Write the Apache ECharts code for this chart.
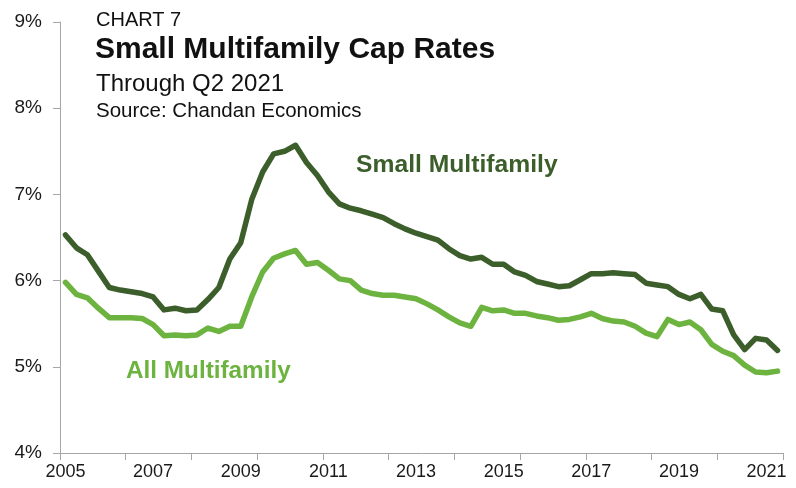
<!DOCTYPE html>
<html>
<head>
<meta charset="utf-8">
<script src="https://cdn.jsdelivr.net/npm/echarts@6/dist/echarts.min.js"></script>
<style>html,body{margin:0;padding:0;background:#fff;}#c{width:796px;height:488px;}</style>
</head>
<body>
<div id="c"></div>
<script>
const quarters = [
'2005Q1','2005Q2','2005Q3','2005Q4','2006Q1','2006Q2','2006Q3','2006Q4',
'2007Q1','2007Q2','2007Q3','2007Q4','2008Q1','2008Q2','2008Q3','2008Q4',
'2009Q1','2009Q2','2009Q3','2009Q4','2010Q1','2010Q2','2010Q3','2010Q4',
'2011Q1','2011Q2','2011Q3','2011Q4','2012Q1','2012Q2','2012Q3','2012Q4',
'2013Q1','2013Q2','2013Q3','2013Q4','2014Q1','2014Q2','2014Q3','2014Q4',
'2015Q1','2015Q2','2015Q3','2015Q4','2016Q1','2016Q2','2016Q3','2016Q4',
'2017Q1','2017Q2','2017Q3','2017Q4','2018Q1','2018Q2','2018Q3','2018Q4',
'2019Q1','2019Q2','2019Q3','2019Q4','2020Q1','2020Q2','2020Q3','2020Q4',
'2021Q1','2021Q2'];

const smallMultifamily = [
6.53,6.38,6.30,6.11,5.92,5.89,5.87,5.85,5.81,5.66,5.68,5.65,5.66,5.78,5.92,6.25,
6.44,6.94,7.26,7.47,7.50,7.57,7.37,7.22,7.03,6.89,6.84,6.81,6.77,6.73,6.66,6.60,
6.55,6.51,6.47,6.37,6.29,6.25,6.27,6.19,6.19,6.10,6.06,5.99,5.96,5.93,5.94,6.01,
6.08,6.08,6.09,6.08,6.07,5.97,5.95,5.93,5.84,5.79,5.84,5.67,5.65,5.37,5.20,5.33,
5.31,5.19];

const allMultifamily = [
5.98,5.84,5.80,5.68,5.57,5.57,5.57,5.56,5.49,5.36,5.37,5.36,5.37,5.45,5.41,5.47,
5.47,5.81,6.10,6.26,6.31,6.35,6.19,6.21,6.12,6.02,6.00,5.89,5.85,5.83,5.83,5.81,
5.79,5.73,5.66,5.58,5.51,5.47,5.69,5.65,5.66,5.62,5.62,5.59,5.57,5.54,5.55,5.58,
5.62,5.56,5.53,5.52,5.47,5.39,5.35,5.55,5.49,5.52,5.43,5.26,5.18,5.13,5.02,4.94,
4.93,4.95];

const yearLabels = ['2005','2007','2009','2011','2013','2015','2017','2019','2021'];
const yTicks = [4,5,6,7,8,9];

const chartLabel = 'CHART 7';
const titleText = 'Small Multifamily Cap Rates';
const subtitleText = 'Through Q2 2021';
const sourceText = 'Source: Chandan Economics';
const seriesNames = ['Small Multifamily','All Multifamily'];

const DARK = '#3b5e2b';
const LIGHT = '#6db33f';
const FONT = '"Liberation Sans", Arial, Helvetica, sans-serif';

const chart = echarts.init(document.getElementById('c'), null, {renderer:'canvas'});
chart.setOption({
  animation: false,
  backgroundColor: '#ffffff',
  textStyle: {fontFamily: FONT},
  grid: {left: 60, right: 13, top: 22, bottom: 35, containLabel: false},
  xAxis: {
    type: 'category',
    data: quarters,
    boundaryGap: true,
    axisLine: {show: true, lineStyle: {color: '#a6a6a6', width: 1}},
    axisTick: {show: true, interval: 5, length: 7, lineStyle: {color: '#a6a6a6'}},
    axisLabel: {
      interval: 7, margin: 10, color: '#1a1a1a', fontSize: 18, fontFamily: FONT,
      formatter: function (v) { const y = v.slice(0,4); return yearLabels.indexOf(y) >= 0 ? y : ''; }
    },
    splitLine: {show: false}
  },
  yAxis: {
    type: 'value',
    min: yTicks[0], max: yTicks[yTicks.length-1], interval: 1,
    axisLine: {show: true, lineStyle: {color: '#a6a6a6', width: 1}},
    axisTick: {show: true, length: 7, lineStyle: {color: '#a6a6a6'}},
    axisLabel: {color: '#1a1a1a', fontSize: 19, margin: 18, fontFamily: FONT, formatter: '{value}%'},
    splitLine: {show: false}
  },
  series: [
    {name: seriesNames[0], type: 'line', data: smallMultifamily, symbol: 'none', smooth: false,
     lineStyle: {color: DARK, width: 5.5, join: 'round', cap: 'round'}, z: 3},
    {name: seriesNames[1], type: 'line', data: allMultifamily, symbol: 'none', smooth: false,
     lineStyle: {color: LIGHT, width: 5.5, join: 'round', cap: 'round'}, z: 2}
  ],
  graphic: [
    {type: 'text', left: 96, top: 10, style: {text: chartLabel, font: '20px ' + FONT, fill: '#111'}},
    {type: 'text', left: 95, top: 35, style: {text: titleText, font: 'bold 30px ' + FONT, fill: '#111'}},
    {type: 'text', left: 96, top: 72, style: {text: subtitleText, font: '24px ' + FONT, fill: '#111'}},
    {type: 'text', left: 96, top: 101, style: {text: sourceText, font: '20.5px ' + FONT, fill: '#111'}},
    {type: 'text', left: 356, top: 153, style: {text: seriesNames[0], font: 'bold 24.7px ' + FONT, fill: DARK}},
    {type: 'text', left: 126, top: 359, style: {text: seriesNames[1], font: 'bold 24.3px ' + FONT, fill: LIGHT}}
  ]
});
</script>
</body>
</html>
